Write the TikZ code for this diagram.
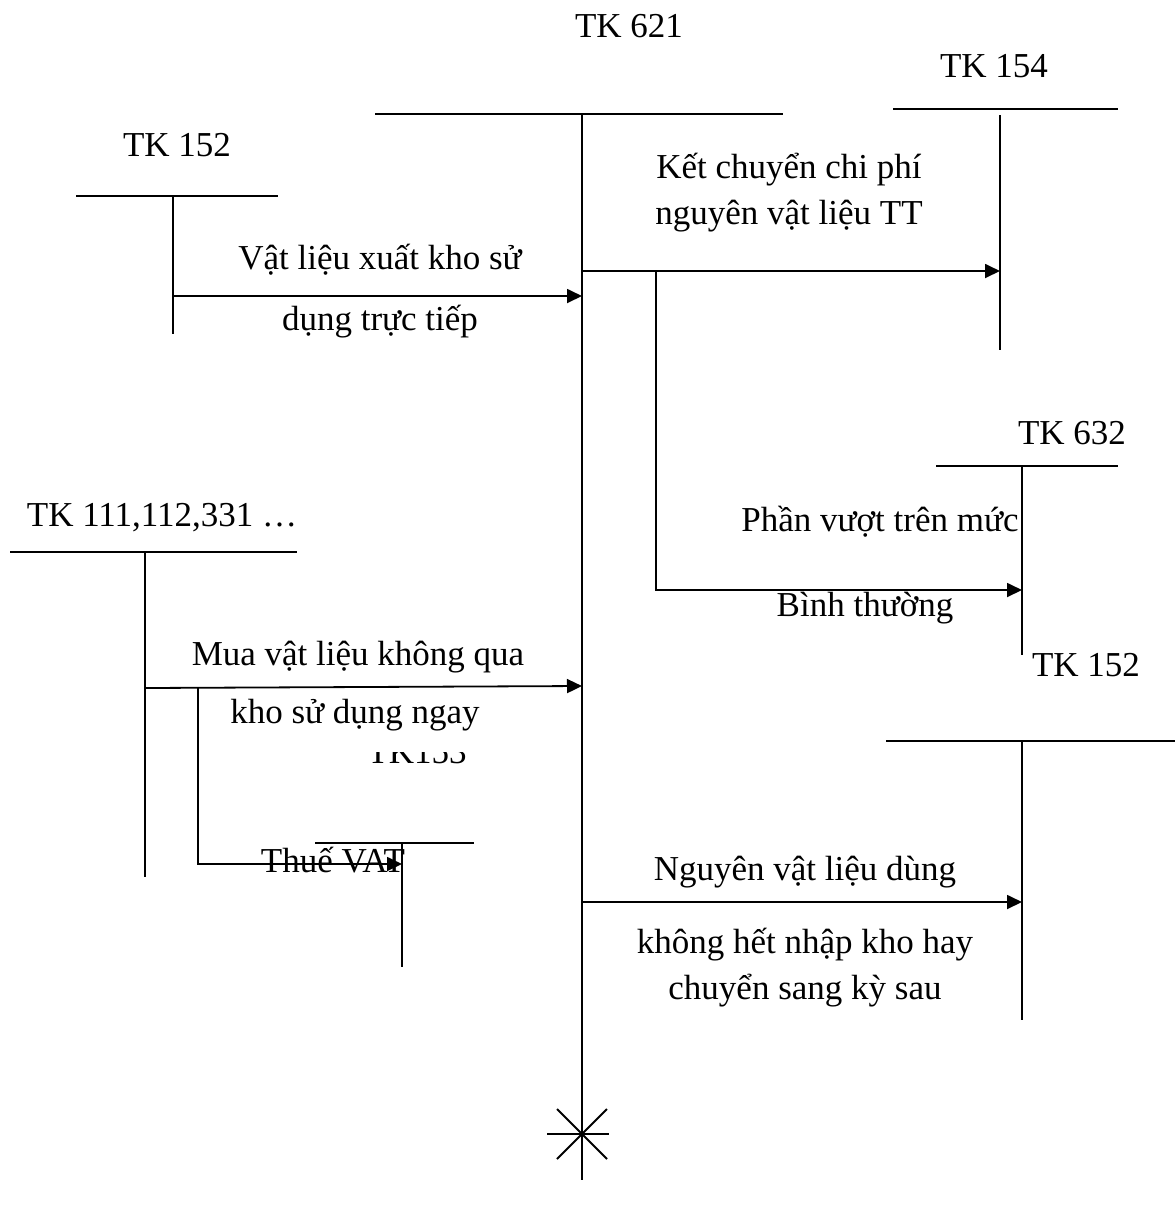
\documentclass[tikz,border=0pt]{standalone}
\usepackage{fontspec}
\setmainfont{Liberation Serif}
\usepackage{tikz}
\usetikzlibrary{arrows.meta, positioning}

\begin{document}
\begin{tikzpicture}[
    x=0.5pt, y=-0.5pt,
    line width=0.9pt,
    every node/.style={inner sep=0pt, font=\fontsize{17.5}{21}\selectfont},
    lbl/.style={anchor=base},
    arrow/.style={-{Triangle[length=7.5pt, width=7pt]}}
]
\useasboundingbox (0,0) rectangle (1176,1207);

% accounts (T shapes)
\node[lbl] (t621) at (629,37) {TK 621};
\draw (375,114) -- (783,114);
\coordinate (a621) at (582,114);
\coordinate (b621) at (582,1180);
\draw (a621) -- (b621);
\coordinate (x621) at (582,1134);
\draw ([shift={(-35,0)}]x621) -- ([shift={(27,0)}]x621);
\draw ([shift={(-25,-25)}]x621) -- ([shift={(25,25)}]x621);
\draw ([shift={(-25,25)}]x621) -- ([shift={(25,-25)}]x621);

\node[lbl] (t152a) at (177,156) {TK 152};
\draw (76,196) -- (278,196);
\draw (173,196) -- (173,334);

\node[lbl] (t154) at (994,77) {TK 154};
\draw (893,109) -- (1118,109);
\draw (1000,115) -- (1000,350);

\node[lbl] (t632) at (1072,444) {TK 632};
\draw (936,466) -- (1118,466);
\draw (1022,466) -- (1022,655);

\node[lbl] (t152b) at (1086,676) {TK 152};
\draw (886,741) -- (1175,741);
\draw (1022,741) -- (1022,1020);

\node[lbl] (t111) at (162,526) {TK 111,112,331 \dots};
\draw (10,552) -- (297,552);
\draw (145,552) -- (145,877);

\begin{scope}
  \clip (370,752) rectangle (470,780);
  \node[lbl] (t153) at (417,763) {TK153};
\end{scope}
\draw (315,843) -- (474,843);
\draw (402,843) -- (402,967);

% entries
\coordinate (s1) at (173,296);
\coordinate (e1) at (582,296);
\draw[arrow] (s1) -- (e1);
\node[lbl] (l1a) at (380,269) {Vật liệu xuất kho sử};
\node[lbl] (l1b) at (380,330) {dụng trực tiếp};

\coordinate (s2) at (582,271);
\coordinate (e2) at (1000,271);
\draw[arrow] (s2) -- (e2);
\node[lbl] (l2a) at (789,178) {Kết chuyển chi phí};
\node[lbl] (l2b) at (789,224) {nguyên vật liệu TT};

\coordinate (s3) at (656,271);
\coordinate (e3) at (1022,590);
\draw[arrow] (s3) |- (e3);
\node[lbl] (l3a) at (880,531) {Phần vượt trên mức};
\node[lbl] (l3b) at (865,616) {Bình thường};

\coordinate (s4) at (145,688);
\coordinate (e4) at (582,686);
\draw[arrow] (s4) -- (e4);
\node[lbl] (l4a) at (358,665) {Mua vật liệu không qua};
\node[lbl] (l4b) at (355,723) {kho sử dụng ngay};

\coordinate (s5) at (198,688);
\coordinate (e5) at (402,864);
\draw[arrow] (s5) |- (e5);
\node[lbl] (l5) at (333,872) {Thuế VAT};

\coordinate (s6) at (582,902);
\coordinate (e6) at (1022,902);
\draw[arrow] (s6) -- (e6);
\node[lbl] (l6a) at (805,880) {Nguyên vật liệu dùng};
\node[lbl] (l6b) at (805,953) {không hết nhập kho hay};
\node[lbl] (l6c) at (805,999) {chuyển sang kỳ sau};
\end{tikzpicture}
\end{document}
